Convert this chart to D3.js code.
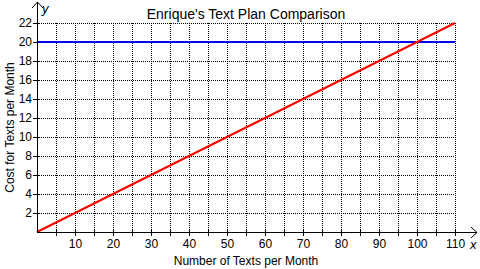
<!DOCTYPE html>
<html lang="en">
<head>
  <script src="https://d3js.org/d3.v7.min.js"></script>
  <style>
    body { margin: 0; background: #fff; }
    text { font-family: Arial, "Liberation Sans", sans-serif; fill: #000; }
    .grid line { stroke: #000; stroke-dasharray: 1,1; shape-rendering: crispEdges; }
  </style>
</head>
<body>
<div id="chart"></div>
<script>
  var title = "Enrique's Text Plan Comparison";
  var xTicks = [5, 10, 15, 20, 25, 30, 35, 40, 45, 50, 55, 60, 65, 70, 75, 80, 85, 90, 95, 100, 105, 110];
  var yTicks = [2, 4, 6, 8, 10, 12, 14, 16, 18, 20, 22];
  // plan A: flat $20, plan B: $0.20 per text
  var flatPlan = [[0, 20], [110, 20]];
  var perTextPlan = [[0, 0], [110, 22]];

  var margin = {top: 23, left: 37},
      width = 418, height = 209;

  var svg = d3.select("#chart").append("svg")
    .attr("width", 480).attr("height", 269);
  var g = svg.append("g").attr("transform", "translate(" + margin.left + "," + margin.top + ")");

  var x = d3.scaleLinear().domain([0, 110]).range([0, width]);
  var y = d3.scaleLinear().domain([0, 22]).range([height, 0]);

  // dotted grid
  g.append("g").attr("class", "grid").selectAll("line").data(xTicks).enter().append("line")
    .attr("x1", d => Math.round(x(d)) + 0.5).attr("x2", d => Math.round(x(d)) + 0.5)
    .attr("y1", 0).attr("y2", height);
  g.append("g").attr("class", "grid").selectAll("line").data(yTicks).enter().append("line")
    .attr("y1", d => Math.round(y(d)) + 0.5).attr("y2", d => Math.round(y(d)) + 0.5)
    .attr("x1", 0).attr("x2", width);

  // axes
  var xAxis = g.append("g").attr("transform", "translate(0," + height + ")")
    .call(d3.axisBottom(x).tickValues(xTicks).tickSizeInner(4).tickSizeOuter(0)
      .tickFormat(d => d % 10 === 0 ? d : ""));
  xAxis.select(".domain").remove();
  xAxis.selectAll(".tick line").attr("y1", -3).attr("y2", 4);
  xAxis.selectAll("text").attr("dy", "0.71em").attr("y", 7).style("font-size", "12px");

  var yAxis = g.append("g")
    .call(d3.axisLeft(y).tickValues(yTicks).tickSizeInner(4).tickSizeOuter(0));
  yAxis.select(".domain").remove();
  yAxis.selectAll(".tick line").attr("x1", -4).attr("x2", 3);
  yAxis.selectAll("text").attr("x", -5).style("font-size", "12px");

  // axis lines with arrows
  svg.append("line").attr("x1", margin.left).attr("x2", 477)
    .attr("y1", margin.top + height + 0.5).attr("y2", margin.top + height + 0.5)
    .attr("stroke", "#000");
  svg.append("path").attr("d", "M471," + (margin.top + height - 5) + "L477," + (margin.top + height + 0.5) + "L471," + (margin.top + height + 6))
    .attr("fill", "none").attr("stroke", "#000");
  svg.append("line").attr("x1", margin.left + 0.5).attr("x2", margin.left + 0.5)
    .attr("y1", 2).attr("y2", margin.top + height)
    .attr("stroke", "#000");
  svg.append("path").attr("d", "M" + (margin.left - 5) + ",8L" + (margin.left + 0.5) + ",2L" + (margin.left + 6) + ",8")
    .attr("fill", "none").attr("stroke", "#000");

  svg.append("text").attr("x", 42).attr("y", 13).style("font-size", "13px").style("font-style", "italic").text("y");
  svg.append("text").attr("x", 470).attr("y", 249).style("font-size", "13px").style("font-style", "italic").text("x");

  // plan lines
  var line = d3.line().x(d => x(d[0])).y(d => y(d[1]));
  g.append("path").datum(flatPlan).attr("d", line).attr("fill", "none")
    .attr("stroke", "#0000ff").attr("stroke-width", 2);
  g.append("path").datum(perTextPlan).attr("d", line).attr("fill", "none")
    .attr("stroke", "#ff0000").attr("stroke-width", 2);

  // titles
  svg.append("text").attr("x", 246).attr("y", 19).attr("text-anchor", "middle")
    .style("font-size", "14px").text(title);
  svg.append("text").attr("x", 246).attr("y", 265).attr("text-anchor", "middle")
    .style("font-size", "12px").text("Number of Texts per Month");
  svg.append("text").attr("transform", "translate(14," + (margin.top + height / 2) + ") rotate(-90)")
    .attr("text-anchor", "middle").style("font-size", "12px").text("Cost for Texts per Month");
</script>
</body>
</html>
